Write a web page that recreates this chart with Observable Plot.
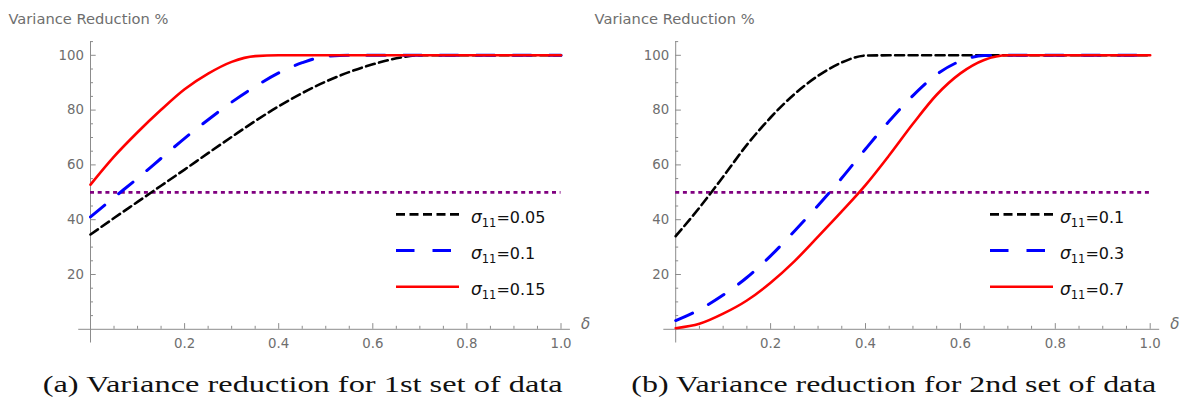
<!DOCTYPE html>
<html>
<head>
<meta charset="utf-8">
<script src="https://cdn.jsdelivr.net/npm/d3@7"></script>
<script src="https://cdn.jsdelivr.net/npm/@observablehq/plot@0.6"></script>
<style>
  html, body { margin: 0; padding: 0; background: #fff; }
  #root { position: relative; width: 1186px; height: 407px; overflow: hidden; background: #fff; }
  #root > svg { position: absolute; top: 0; }
</style>
</head>
<body>
<div id="root"></div>
<script>
// ---------- data ----------
const delta = [0, 0.05, 0.1, 0.15, 0.2, 0.25, 0.3, 0.35, 0.4, 0.45, 0.5, 0.55, 0.6, 0.65, 0.7, 0.75, 0.8, 0.85, 0.9, 0.95, 1.0];

// panel (a): 1st set of data
const sigmaA = ["0.05", "0.1", "0.15"];
const vrA_005 = [34.6, 40.6, 46.5, 52.4, 58.3, 64.3, 70.2, 76.0, 81.4, 86.2, 90.4, 93.9, 96.7, 98.9, 100, 100, 100, 100, 100, 100, 100];
const vrA_01  = [41.0, 48.1, 55.1, 62.4, 69.7, 76.5, 82.9, 88.6, 93.6, 97.3, 99.6, 100, 100, 100, 100, 100, 100, 100, 100, 100, 100];
const vrA_015 = [52.8, 63.0, 71.9, 80.1, 87.6, 93.3, 97.6, 99.7, 100, 100, 100, 100, 100, 100, 100, 100, 100, 100, 100, 100, 100];

// panel (b): 2nd set of data
const sigmaB = ["0.1", "0.3", "0.7"];
const vrB_01 = [34.0, 44.4, 55.7, 67.3, 77.3, 85.8, 92.5, 97.4, 99.9, 100, 100, 100, 100, 100, 100, 100, 100, 100, 100, 100, 100];
const vrB_03 = [3.2, 7.2, 12.5, 18.9, 26.8, 35.8, 45.2, 55.2, 65.8, 76.0, 85.3, 93.0, 97.9, 99.9, 100, 100, 100, 100, 100, 100, 100];
const vrB_07 = [0.4, 2.0, 5.7, 10.5, 17.0, 24.8, 33.8, 43.0, 52.6, 63.5, 75.0, 85.6, 93.4, 98.3, 100, 100, 100, 100, 100, 100, 100];

const threshold = [50];

const xMajor = [0.2, 0.4, 0.6, 0.8, 1.0];
const xMinor = [0.05, 0.1, 0.15, 0.25, 0.3, 0.35, 0.45, 0.5, 0.55, 0.65, 0.7, 0.75, 0.85, 0.9, 0.95];
const yMajor = [20, 40, 60, 80, 100];
const yMinor = [5, 10, 15, 25, 30, 35, 45, 50, 55, 65, 70, 75, 85, 90, 95, 105];

const yTitle = "Variance Reduction %";
const captionA = "(a) Variance reduction for 1st set of data";
const captionB = "(b) Variance reduction for 2nd set of data";

// ---------- styles ----------
const AXIS = "#8c8c8c";
const TICKTXT = "#6e6e6e";
const SANS = "DejaVu Sans";
const lineStyles = [
  {stroke: "#000000", width: 2.6, dash: "9,4.5"},
  {stroke: "#0000ff", width: 3.0, dash: "18.5,18"},
  {stroke: "#ff0000", width: 2.6, dash: null}
];

function seriesRows(values) {
  return delta.map((d, i) => ({x: d, y: values[i]}));
}

function panel(seriesValues, marginLeft, marginRight, left) {
  const marks = [
    Plot.ruleY([0], {x1: -0.025, x2: 1.02, stroke: AXIS, strokeWidth: 1}),
    Plot.ruleX([0], {y1: -5, y2: 105, stroke: AXIS, strokeWidth: 1}),
    Plot.ruleX(xMajor, {y1: 0, y2: 0, insetTop: -5.7, stroke: AXIS, strokeWidth: 1}),
    Plot.ruleX(xMinor, {y1: 0, y2: 0, insetTop: -3, stroke: AXIS, strokeWidth: 1}),
    Plot.ruleY(yMajor, {x1: 0, x2: 0, insetRight: -5.7, stroke: AXIS, strokeWidth: 1}),
    Plot.ruleY(yMinor, {x1: 0, x2: 0, insetRight: -3, stroke: AXIS, strokeWidth: 1}),
    Plot.text(xMajor, {x: d => d, y: 0, dy: 14.5, text: d => d.toFixed(1), fill: TICKTXT, fontSize: 13.3, fontFamily: SANS}),
    Plot.text(yMajor, {x: 0, y: d => d, dx: -6.6, textAnchor: "end", text: d => String(d), fill: TICKTXT, fontSize: 13.3, fontFamily: SANS}),
    Plot.text(["δ"], {frameAnchor: "bottom-right", dx: 20, dy: 0, textAnchor: "start", text: d => d, fill: TICKTXT, fontSize: 15, fontStyle: "italic", fontFamily: SANS}),
    Plot.ruleY(threshold, {x1: 0, x2: 1, stroke: "#800080", strokeWidth: 2.8, strokeDasharray: "4,3.7"})
  ];
  seriesValues.forEach((vals, k) => {
    const st = lineStyles[k];
    marks.push(Plot.line(seriesRows(vals), {
      x: "x", y: "y", stroke: st.stroke, strokeWidth: st.width,
      strokeDasharray: st.dash || undefined, curve: "monotone-x"
    }));
  });
  const svg = Plot.plot({
    width: 593, height: 360,
    marginLeft, marginRight, marginTop: 41.1, marginBottom: 31.2,
    x: {domain: [0, 1], axis: null},
    y: {domain: [0, 105], axis: null},
    style: {fontFamily: SANS, background: "transparent", overflow: "visible"},
    marks
  });
  svg.style.left = left + "px";
  svg.style.position = "absolute";
  svg.style.top = "0px";
  return svg;
}

const root = document.getElementById("root");
root.appendChild(panel([vrA_005, vrA_01, vrA_015], 90, 32.5, 0));
root.appendChild(panel([vrB_01, vrB_03, vrB_07], 82.2, 36.3, 593));

// ---------- overlay: axis titles, legends, captions ----------
const ov = d3.create("svg")
  .attr("width", 1186).attr("height", 407)
  .style("position", "absolute").style("left", "0px").style("top", "0px")
  .style("pointer-events", "none");

[8.4, 594.6].forEach(x => {
  ov.append("text").attr("x", x).attr("y", 24)
    .attr("font-family", SANS).attr("font-size", 14.5).attr("fill", TICKTXT)
    .attr("textLength", 160).attr("lengthAdjust", "spacingAndGlyphs")
    .text(yTitle);
});

function legend(labels, lx0, lx1, tx) {
  const rowY = [214.4, 250.5, 286.7];
  labels.forEach((lab, k) => {
    const st = lineStyles[k];
    const ln = ov.append("line").attr("x1", lx0).attr("x2", lx1)
      .attr("y1", rowY[k]).attr("y2", rowY[k])
      .attr("stroke", st.stroke).attr("stroke-width", st.width);
    if (st.dash) ln.attr("stroke-dasharray", st.dash);
    const t = ov.append("text").attr("x", tx).attr("y", rowY[k] + 8.4)
      .attr("font-family", SANS).attr("font-size", 16).attr("fill", "#111");
    t.append("tspan").attr("font-style", "italic").attr("font-size", 17).text("σ");
    t.append("tspan").attr("font-size", 11.5).attr("dy", 4).text("11");
    t.append("tspan").attr("dy", -4).text("=" + lab);
  });
}
legend(sigmaA, 396, 459, 471);
legend(sigmaB, 990, 1053, 1060);

[[captionA, 42.7, 520], [captionB, 631.3, 525]].forEach(([txt, x, w]) => {
  ov.append("text").attr("x", x).attr("y", 392.3)
    .attr("font-family", "Liberation Serif").attr("font-size", 23.5).attr("fill", "#111")
    .attr("textLength", w).attr("lengthAdjust", "spacingAndGlyphs")
    .text(txt);
});

root.appendChild(ov.node());
</script>
</body>
</html>
